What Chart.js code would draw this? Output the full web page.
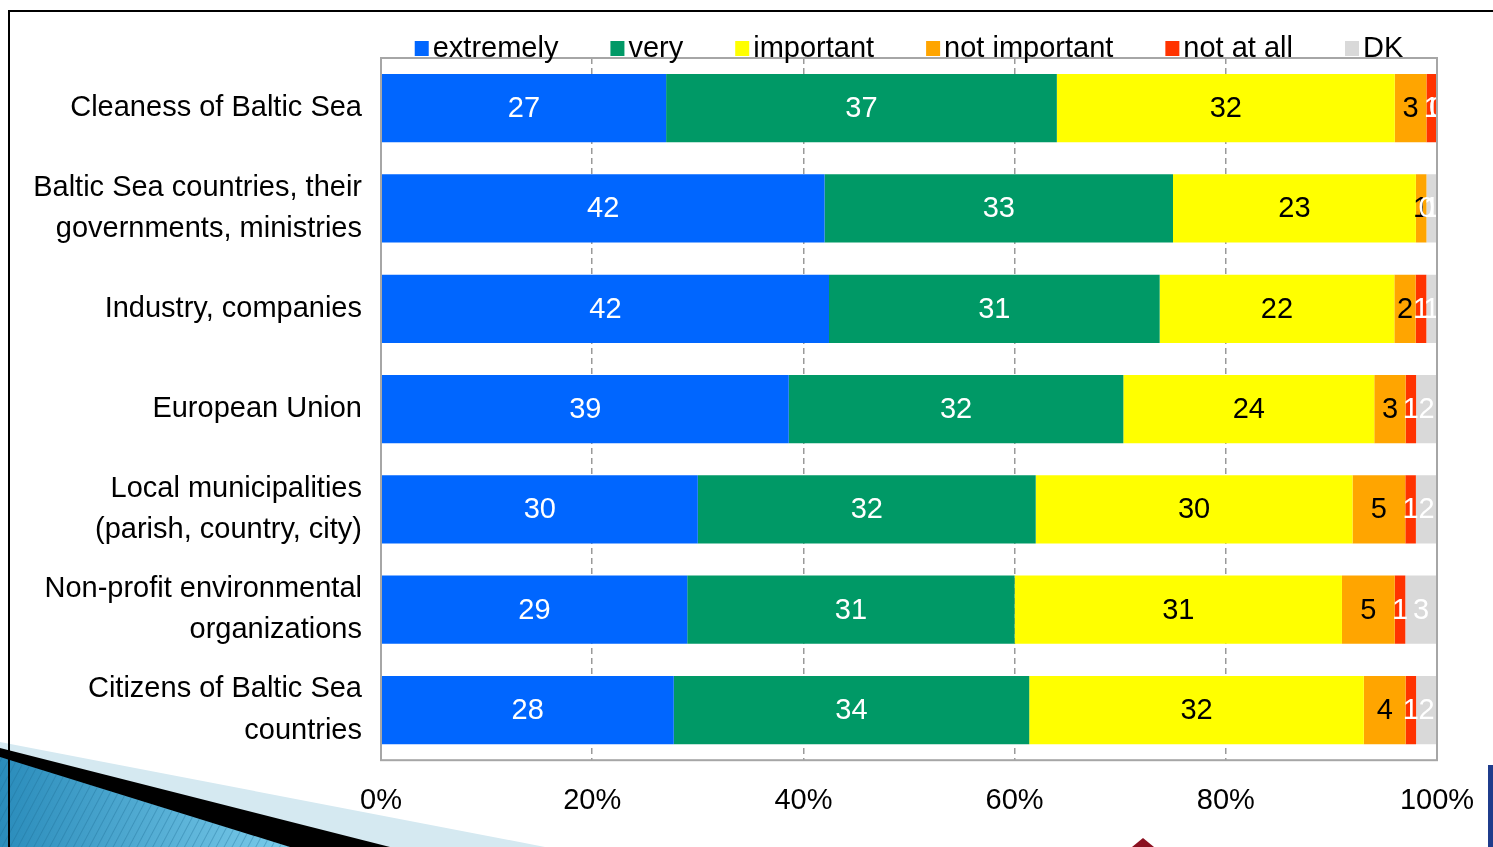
<!DOCTYPE html>
<html>
<head>
<meta charset="utf-8">
<script src="https://cdn.jsdelivr.net/npm/chart.js@4.4.1/dist/chart.umd.min.js"></script>
<style>
  html, body { margin: 0; padding: 0; background: #fff; overflow: hidden; }
  #wrap { position: relative; width: 1493px; height: 847px; }
  #deco, #frame, canvas { position: absolute; left: 0; top: 0; }
  #frame { left: 8px; top: 10px; width: 1500px; height: 900px; border-top: 2px solid #000; border-left: 2px solid #000; }
</style>
</head>
<body>
<div id="wrap">
  <svg id="deco" width="1493" height="847">
    <defs>
      <linearGradient id="sw" x1="0" y1="0" x2="1" y2="0">
        <stop offset="0" stop-color="#2A8CBB"/>
        <stop offset="1" stop-color="#7ACBEA"/>
      </linearGradient>
      <pattern id="st" width="7" height="7" patternUnits="userSpaceOnUse" patternTransform="rotate(28)">
        <line x1="0" y1="0" x2="0" y2="7" stroke="#1B6A93" stroke-opacity="0.35" stroke-width="2"/>
      </pattern>
    </defs>
    <polygon points="0,742 545,847 0,847" fill="#D5E9F1"/>
    <polygon points="0,748 390,847 0,847" fill="#000"/>
    <polygon points="0,757 290,847 0,847" fill="url(#sw)"/>
    <polygon points="0,757 290,847 0,847" fill="url(#st)"/>
    <rect x="1488" y="765" width="5" height="82" fill="#1F3C8C"/>
    <polygon points="1132,847 1143,838 1154,847" fill="#8B1020"/>
  </svg>
  <div id="frame"></div>
  <canvas id="chart" width="1493" height="847"></canvas>
</div>
<script>
// categories (y axis)
const categories = [
  ['Cleaness of Baltic Sea'],
  ['Baltic Sea countries, their', 'governments, ministries'],
  ['Industry, companies'],
  ['European Union'],
  ['Local municipalities', '(parish, country, city)'],
  ['Non-profit environmental', 'organizations'],
  ['Citizens of Baltic Sea', 'countries']
];

// answers, % of respondents (as printed on the bars)
const extremely    = [27, 42, 42, 39, 30, 29, 28];
const very         = [37, 33, 31, 32, 32, 31, 34];
const important    = [32, 23, 22, 24, 30, 31, 32];
const notImportant = [ 3,  1,  2,  3,  5,  5,  4];
const notAtAll     = [ 1,  0,  1,  1,  1,  1,  1];
const dontKnow     = [ 0,  1,  1,  2,  2,  3,  2];

const seriesNames  = ['extremely', 'very', 'important', 'not important', 'not at all', 'DK'];
const seriesValues = [extremely, very, important, notImportant, notAtAll, dontKnow];
const seriesColors = ['#0066FF', '#009966', '#FFFF00', '#FFA500', '#FF3300', '#D9D9D9'];
const labelColors  = ['#FFFFFF', '#FFFFFF', '#000000', '#000000', '#FFFFFF', '#FFFFFF'];

const xTickLabels = ['0%', '20%', '40%', '60%', '80%', '100%'];

const FONT_FAMILY = '"Liberation Sans", Arial, sans-serif';
const FONT = '29px ' + FONT_FAMILY;

// 100% stacked: each row is scaled by its own total
const rowTotals = categories.map((_, j) => seriesValues.reduce((s, arr) => s + arr[j], 0));

const datasets = seriesNames.map((name, i) => ({
  label: name,
  data: seriesValues[i].map((v, j) => v / rowTotals[j] * 100),
  printed: seriesValues[i],
  backgroundColor: seriesColors[i],
  borderWidth: 0,
  categoryPercentage: 1,
  barPercentage: 0.68
}));

// numbers in the bars + plot frame
const barLabels = {
  id: 'barLabels',
  afterDatasetsDraw(chart) {
    const { ctx, chartArea: a } = chart;
    ctx.save();
    ctx.beginPath();
    ctx.rect(a.left, a.top, a.right - a.left, a.bottom - a.top);
    ctx.clip();
    ctx.font = FONT;
    ctx.textAlign = 'center';
    ctx.textBaseline = 'middle';
    chart.data.datasets.forEach((ds, i) => {
      chart.getDatasetMeta(i).data.forEach((bar, j) => {
        ctx.fillStyle = labelColors[i];
        ctx.fillText(String(ds.printed[j]), (bar.x + bar.base) / 2, bar.y + 1);
      });
    });
    ctx.restore();

    ctx.save();
    ctx.strokeStyle = '#A6A6A6';
    ctx.lineWidth = 2;
    ctx.strokeRect(a.left, a.top, a.right - a.left, a.bottom - a.top);
    ctx.restore();
  }
};

// legend centred over the plot area
const topLegend = {
  id: 'topLegend',
  afterDraw(chart) {
    const { ctx, chartArea: a } = chart;
    ctx.save();
    ctx.font = FONT;
    ctx.textAlign = 'left';
    ctx.textBaseline = 'middle';
    const box = 14, gap = 4, space = 52;
    const items = chart.data.datasets.map(d => ({
      text: d.label, color: d.backgroundColor, w: ctx.measureText(d.label).width
    }));
    const total = items.reduce((s, it) => s + box + gap + it.w, 0) + space * (items.length - 1);
    let x = (a.left + a.right) / 2 - total / 2;
    const y = a.top - 10;
    items.forEach(it => {
      ctx.fillStyle = it.color;
      ctx.fillRect(x, y - 7, box, 15);
      ctx.fillStyle = '#000';
      ctx.fillText(it.text, x + box + gap, y + 1);
      x += box + gap + it.w + space;
    });
    ctx.restore();
  }
};

new Chart(document.getElementById('chart').getContext('2d'), {
  type: 'bar',
  data: { labels: categories, datasets },
  options: {
    responsive: false,
    animation: false,
    indexAxis: 'y',
    layout: { padding: { top: 58, right: 56, bottom: 6, left: 0 } },
    plugins: { legend: { display: false }, tooltip: { enabled: false } },
    scales: {
      x: {
        stacked: true,
        min: 0,
        max: 100,
        ticks: {
          stepSize: 20,
          padding: 23,
          color: '#000',
          font: { family: FONT_FAMILY, size: 29 },
          callback: v => xTickLabels[Math.round(v / 20)]
        },
        grid: { color: '#9A9A9A', lineWidth: 1.5, drawTicks: false },
        border: { display: false, dash: [6, 4] },
        afterFit(scale) { scale.paddingLeft = 0; scale.paddingRight = 0; }
      },
      y: {
        stacked: true,
        grid: { display: false, drawTicks: false },
        border: { display: false },
        ticks: {
          padding: 19,
          color: '#000',
          font: { family: FONT_FAMILY, size: 29, lineHeight: 1.42 }
        },
        afterFit(scale) { scale.width = 381; scale.paddingTop = 0; scale.paddingBottom = 0; }
      }
    }
  },
  plugins: [barLabels, topLegend]
});
</script>
</body>
</html>
